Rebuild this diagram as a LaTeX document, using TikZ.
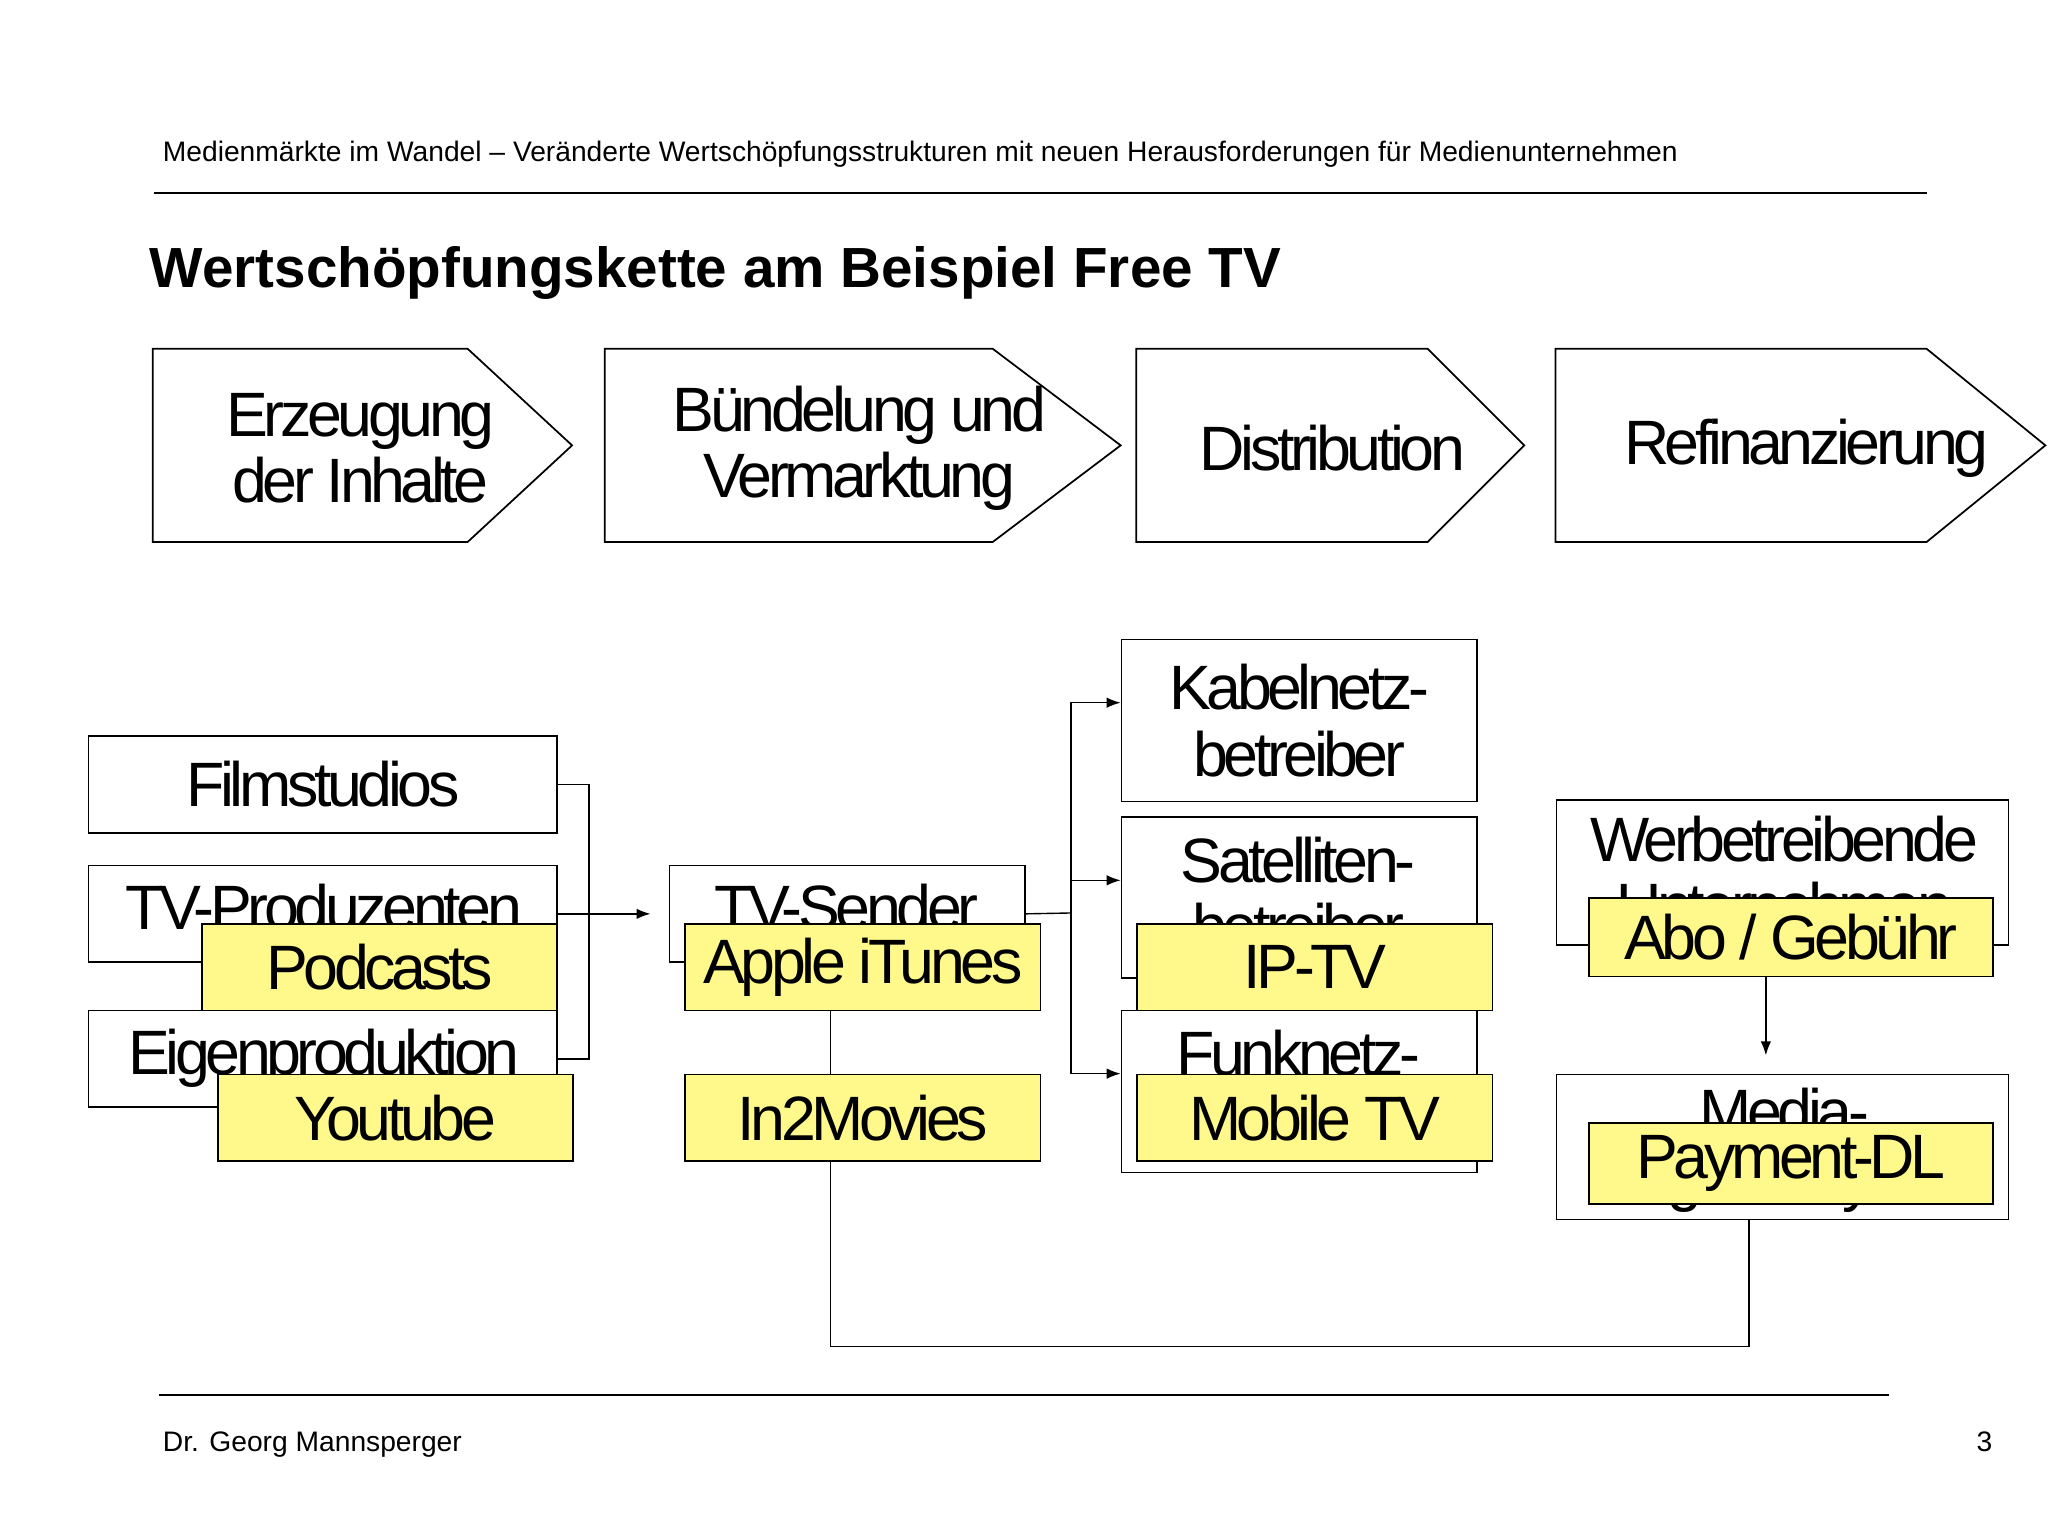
\documentclass[tikz,border=0pt]{standalone}
\usepackage{fontspec}
\setmainfont{Liberation Sans}
\newfontfamily\tight[LetterSpace=-7]{Liberation Sans}
\usetikzlibrary{arrows.meta}
\begin{document}
\begin{tikzpicture}[x=0.75pt,y=-0.75pt,
  wbox/.style={draw,line width=1pt,fill=white,inner sep=0},
  ybox/.style={draw,line width=1pt,fill=yellow!45,inner sep=0},
  big/.style={font=\tight\fontsize{36}{38}\selectfont,align=center},
  wd/.style={minimum width={#1*0.75pt}},
  ht/.style={minimum height={#1*0.75pt}},
  conn/.style={line width=0.8pt},
  arr/.style={conn,-{Latex[length=8pt,width=6pt]}}]
\useasboundingbox (0,0) rectangle (1568,1176);
\fill[white] (0,0) rectangle (1568,1176);
\node[anchor=base west,font=\fontsize{16.2}{18}\selectfont] (hdr) at (120,124) {Medienmärkte im Wandel – Veränderte Wertschöpfungsstrukturen mit neuen Herausforderungen für Medienunternehmen};
\draw[line width=1pt] (118,148) -- (1475,148);
\node[anchor=base west,font=\bfseries\fontsize{32.5}{34}\selectfont] (title) at (110,220) {Wertschöpfungskette am Beispiel Free TV};
% chevrons
\draw[line width=1pt] (117,267) -- (358,267) -- (438,341) -- (358,415) -- (117,415) -- cycle;
\draw[line width=1pt] (463,267) -- (760,267) -- (858,341) -- (760,415) -- (463,415) -- cycle;
\draw[line width=1pt] (870,267) -- (1093,267) -- (1167,341) -- (1093,415) -- (870,415) -- cycle;
\draw[line width=1pt] (1191,267) -- (1475,267) -- (1566,341) -- (1475,415) -- (1191,415) -- cycle;
\node[big] (c1) at (276,343) {Erzeugung\\ der Inhalte};
\node[big] (c2) at (658,343) {Bündelung und\\ Vermarktung};
\node[big] (c3) at (1020,343) {Distribution};
\node[big] (c4) at (1383,343) {Refinanzierung};
% white boxes
\node[wbox,wd=359,ht=74,anchor=north west] (film) at (67,563) {};
\node[big] at (film.center) {Filmstudios};
\node[wbox,wd=359,ht=74,anchor=north west] (tvp) at (67,662) {};
\begin{scope}\clip (67,662) rectangle (426,736);
\node[big,anchor=north] at (248,672) {TV-Produzenten};\end{scope}
\node[wbox,wd=359,ht=74,anchor=north west] (eig) at (67,773) {};
\begin{scope}\clip (67,773) rectangle (426,847);
\node[big,anchor=north] at (248,783) {Eigenproduktion};\end{scope}
\node[wbox,wd=272,ht=74,anchor=north west] (tvs) at (512,662) {};
\begin{scope}\clip (512,662) rectangle (784,736);
\node[big,anchor=north] at (648,672) {TV-Sender};\end{scope}
\node[wbox,wd=272,ht=124,anchor=north west] (kab) at (858,489) {};
\node[big] at (kab.center) {Kabelnetz-\\betreiber};
\node[wbox,wd=272,ht=123,anchor=north west] (sat) at (858,625) {};
\begin{scope}\clip (858,625) rectangle (1130,748);
\node[big,anchor=north] at (994,636) {Satelliten-\\betreiber};\end{scope}
\node[wbox,wd=272,ht=124,anchor=north west] (funk) at (858,773) {};
\begin{scope}\clip (858,773) rectangle (1130,897);
\node[big,anchor=north] at (994,784) {Funknetz-\\betreiber};\end{scope}
\node[wbox,wd=346,ht=111,anchor=north west] (werb) at (1191,612) {};
\begin{scope}\clip (1191,612) rectangle (1537,723);
\node[big,anchor=north] at (1366,620) {Werbetreibende\\Unternehmen};\end{scope}
\node[wbox,wd=346,ht=111,anchor=north west] (media) at (1191,822) {};
\begin{scope}\clip (1191,822) rectangle (1537,933);
\node[big,anchor=north] at (1366,828) {Media-\\gateways};\end{scope}
% connectors
\coordinate (j1) at (451,699);
\draw[conn] (film.east) -| (j1);
\draw[conn] (eig.east) -| (j1);
\draw[arr] (tvp.east) -- (tvp.east -| 498,0);
\coordinate (j2) at (820,699);
\draw[conn] (tvs.east) -- (j2);
\draw[arr] (j2) |- (kab.west |- 0,538);
\draw[arr] (j2) |- (sat.west |- 0,674);
\draw[arr] (j2) |- (funk.west |- 0,822);
% yellow boxes
\node[ybox,big,wd=272,ht=66,anchor=north west] (pod) at (154,707) {Podcasts};
\node[ybox,big,wd=272,ht=66,anchor=north west] (yt) at (166,822) {Youtube};
\node[ybox,big,wd=272,ht=66,anchor=north west] (itu) at (524,707) {Apple iTunes};
\node[ybox,big,wd=272,ht=66,anchor=north west] (in2) at (524,822) {In2Movies};
\node[ybox,big,wd=272,ht=66,anchor=north west] (ip) at (870,707) {IP-TV};
\node[ybox,big,wd=272,ht=66,anchor=north west] (mob) at (870,822) {Mobile TV};
\node[ybox,big,wd=309,ht=60,anchor=north west] (abo) at (1216,687) {Abo / Gebühr};
\node[ybox,big,wd=309,ht=62,anchor=north west] (pay) at (1216,859) {Payment-DL};
\draw[conn] (itu.south -| 636,0) -- (in2.north -| 636,0);
\draw[conn] (in2.south -| 636,0) -- (636,1031) -| (media.south -| 1339,0);
\draw[arr] (abo.south -| 1352,0) -- (1352,808);
% footer
\draw[line width=1pt] (122,1068) -- (1446,1068);
\node[anchor=base west,font=\fontsize{16.2}{18}\selectfont] (ft) at (120,1111) {Dr. Georg Mannsperger};
\node[anchor=base east,font=\fontsize{16.2}{18}\selectfont] (pg) at (1530,1111) {3};
\end{tikzpicture}
\end{document}
